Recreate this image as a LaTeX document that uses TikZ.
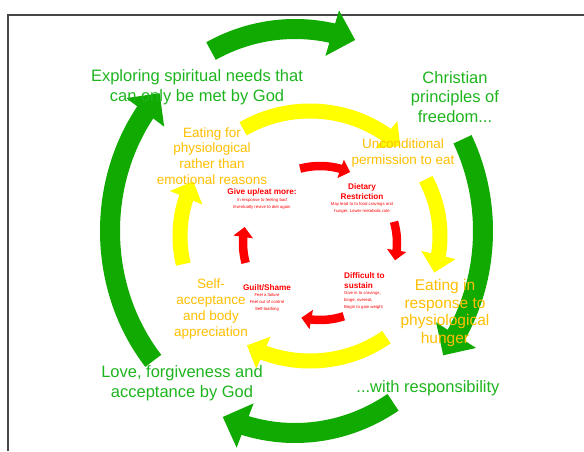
\documentclass[tikz,border=0pt]{standalone}
\usepackage{fontspec}
\setmainfont{Liberation Sans}
\usetikzlibrary{arrows.meta,bending,positioning}

\definecolor{ringgreen}{RGB}{16,170,0}
\definecolor{textgreen}{RGB}{30,180,30}
\definecolor{ringyellow}{RGB}{255,255,0}
\definecolor{textorange}{RGB}{255,190,0}
\definecolor{ringred}{RGB}{255,0,0}
\definecolor{framegray}{RGB}{70,70,70}

\tikzset{
  outerarc/.style={draw=ringgreen,line width=20pt,-{Triangle[width=46pt,length=24pt]}},
  middlearc/.style={draw=ringyellow,line width=15pt,-{Triangle[width=34pt,length=18pt]}},
  innerarc/.style={draw=ringred,line width=8.5pt,-{Triangle[width=19pt,length=10pt]}},
  outertext/.style={text=textgreen,align=center,inner sep=0pt,font=\fontsize{16.5}{19.5}\selectfont},
  middletext/.style={text=textorange,align=center,inner sep=0pt,font=\fontsize{13.5}{15.8}\selectfont},
  innerhead/.style={text=ringred,align=center,inner sep=0pt,font=\bfseries\fontsize{8.2}{10}\selectfont},
  innernote/.style={text=ringred,align=center,inner sep=0pt,font=\fontsize{4.3}{6.8}\selectfont},
}

\begin{document}
\begin{tikzpicture}[x=1pt,y=1pt]
  \useasboundingbox (0,0) rectangle (584,451);
  \draw[framegray,line width=1.2pt] (8,0) -- (8,436) -- (584,436);

  % outer cycle
  \coordinate (gc) at (295,220);
  \draw[outerarc] (gc) ++(117:185pt and 202pt) arc (117:71:185pt and 202pt);
  \draw[outerarc] (gc) ++(27:188pt and 202pt) arc (27:-38:188pt and 202pt);
  \draw[outerarc] (gc) ++(-58:185pt and 202pt) arc (-58:-113:185pt and 202pt);
  \draw[outerarc] (gc) ++(220:185pt and 202pt) arc (220:137:185pt and 202pt);

  % middle cycle
  \coordinate (yc) at (310,215);
  \draw[middlearc] (yc) ++(121:130pt and 125pt) arc (121:46:130pt and 125pt);
  \draw[middlearc] (yc) ++(27:130pt and 125pt) arc (27:-17:130pt and 125pt);
  \draw[middlearc] (yc) ++(-54:130pt and 125pt) arc (-54:-119:130pt and 125pt);
  \draw[middlearc] (yc) ++(193:130pt and 125pt) arc (193:154:130pt and 125pt);

  % inner cycle
  \coordinate (rc) at (320,208);
  \draw[innerarc] (rc) ++(105:77pt) arc (105:67:77pt);
  \draw[innerarc] (rc) ++(16:77pt) arc (16:-13:77pt);
  \draw[innerarc] (rc) ++(-72:77pt) arc (-72:-104:77pt);
  \draw[innerarc] (rc) ++(195:77pt) arc (195:168:77pt);

  % outer labels
  \node[outertext] (spirit) at (197,364) {Exploring spiritual needs that\\can only be met by God};
  \node[outertext] (freedom) at (455,354) {Christian\\principles of\\freedom...};
  \node[outertext] (love) at (182,68) {Love, forgiveness and\\acceptance by God};
  \node[outertext] (respons) at (428,63) {...with responsibility};

  % middle labels
  \node[middletext] (physio) at (212,295) {Eating for\\physiological\\rather than\\emotional reasons};
  \node[middletext] (permit) at (403,298) {Unconditional\\permission to eat};
  \node[middletext,font=\fontsize{15.5}{17.5}\selectfont] (hunger) at (445,138) {Eating in\\response to\\physiological\\hunger};
  \node[middletext] (selfacc) at (211,142) {Self-\\acceptance\\and body\\appreciation};

  % inner labels
  \node[innerhead] (giveup) at (262,259) {Give up/eat more:};
  \node[innernote,below=2pt of giveup] (giveupnote) {In response to feeling bad\\Eventually revive to diet again};
  \node[innerhead] (diet) at (362,259) {Dietary\\Restriction};
  \node[innernote,below=2pt of diet] (dietnote) {May lead to to food cravings and\\hunger, Lower metabolic rate};
  \node[innerhead] (guilt) at (267,163) {Guilt/Shame};
  \node[innernote,below=2pt of guilt] (guiltnote) {Feel a failure\\Feel out of control\\Self-loathing};
  \node[innerhead,align=left,anchor=west] (sustain) at (344,170) {Difficult to\\sustain};
  \node[innernote,align=left,below=2pt of sustain.south west,anchor=north west] (sustainnote) {Give in to cravings,\\binge, overeat,\\Begin to gain weight};
\end{tikzpicture}
\end{document}
